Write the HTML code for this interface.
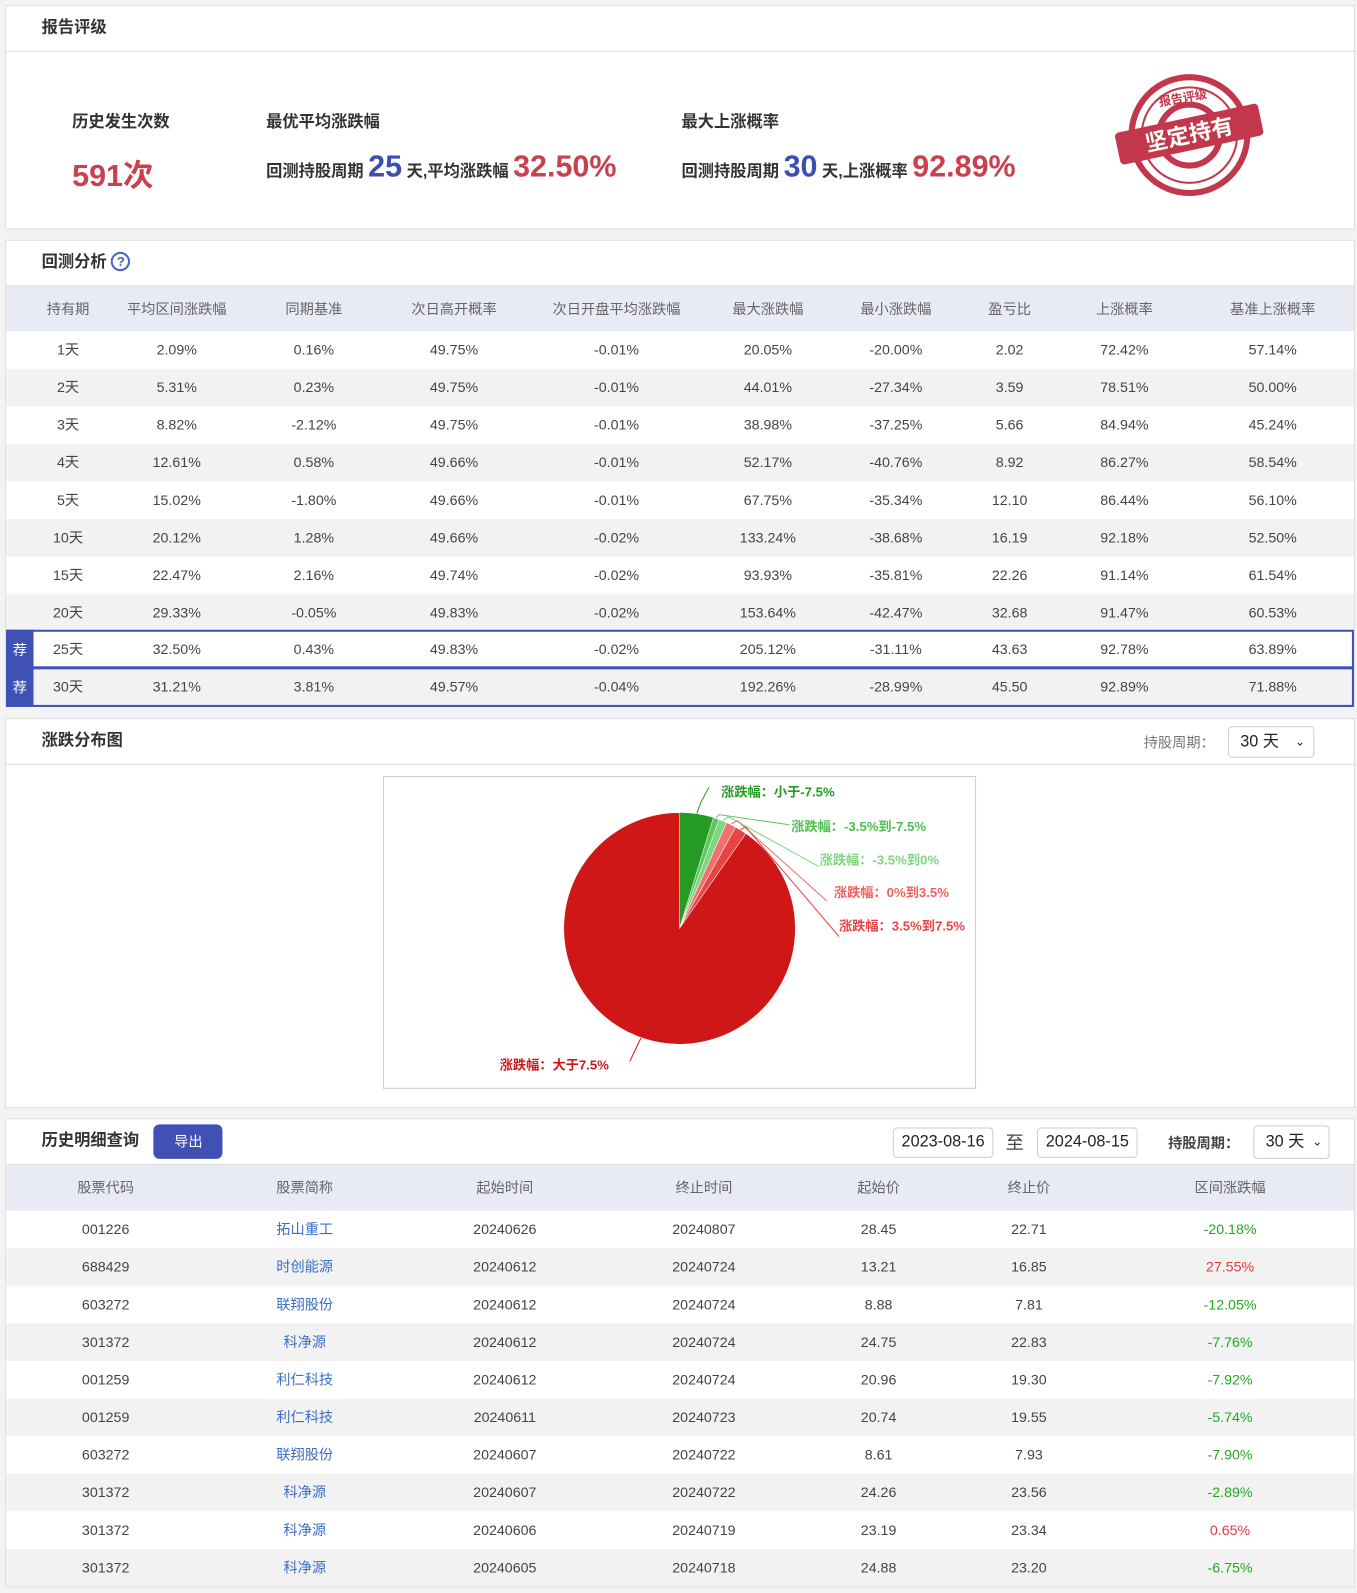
<!DOCTYPE html>
<html><head><meta charset="utf-8"><style>
*{box-sizing:border-box;margin:0;padding:0}
body{width:1357px;height:1593px;background:#f3f3f3;font-family:"Liberation Sans","Noto Sans CJK SC",sans-serif;color:#333;overflow:hidden}
#w{position:relative;width:1336px;height:1568px;transform:scale(1.01572);transform-origin:0 0}
.p{position:absolute;left:5px;width:1329px;background:#fff;border:1px solid #ddd}
.hd{height:45px;border-bottom:1px solid #ddd;font-size:16px;font-weight:bold;color:#333;padding-left:35px;line-height:44px}
.abs{position:absolute;white-space:nowrap}
.lk{color:#3b6ec6}.up{color:#e8383d}.dn{color:#22a822}
</style></head><body><div id="w">

<div class="p" style="top:5px;height:221px">
<div class="hd">报告评级</div>
<div class="abs" style="left:65px;top:100px;font-size:16px;font-weight:bold">历史发生次数</div>
<div class="abs" style="left:65px;top:142px;font-size:30px;font-weight:bold;color:#c9404f">591次</div>
<div class="abs" style="left:256px;top:100px;font-size:16px;font-weight:bold">最优平均涨跌幅</div>
<div class="abs" style="left:256px;top:142px;font-size:16px;font-weight:bold">回测持股周期 <span style="font-size:30px;color:#3a4fb0">25</span> 天,平均涨跌幅 <span style="font-size:30px;color:#c9404f">32.50%</span></div>
<div class="abs" style="left:665px;top:100px;font-size:16px;font-weight:bold">最大上涨概率</div>
<div class="abs" style="left:665px;top:142px;font-size:16px;font-weight:bold">回测持股周期 <span style="font-size:30px;color:#3a4fb0">30</span> 天,上涨概率 <span style="font-size:30px;color:#c9404f">92.89%</span></div>
<svg class="abs" style="left:1085px;top:62px" width="160" height="130">
<circle cx="80" cy="65" r="57" fill="none" stroke="#c2374b" stroke-width="6"/>
<circle cx="80" cy="65" r="47" fill="none" stroke="#c2374b" stroke-width="2"/>
<circle cx="80" cy="65" r="30" fill="none" stroke="#c2374b" stroke-width="6"/>
<text x="80" y="32" font-size="12" font-weight="bold" fill="#c2374b" text-anchor="middle" transform="rotate(-10 80 65)">报告评级</text>
<g transform="rotate(-12 80 65)"><rect x="8" y="48" width="144" height="32" rx="4" fill="#c2374b"/>
<text x="80" y="72" font-size="22" font-weight="bold" fill="#fff" text-anchor="middle">坚定持有</text></g>
</svg>
</div>

<div class="p" style="top:236px;height:460px">
<div class="hd">回测分析 <span style="display:inline-block;width:19px;height:19px;border:2px solid #4a63c0;border-radius:50%;color:#4a63c0;font-size:13px;line-height:15px;text-align:center;vertical-align:1px">?</span></div>
</div>

<div class="p" style="top:707px;height:384px">
<div class="hd">涨跌分布图</div>
<div class="abs" style="left:1120px;top:13px;font-size:14px;color:#777">持股周期：</div>
<div class="abs" style="left:1203px;top:7px;width:85px;height:31px;border:1px solid #ccc;border-radius:4px;font-size:16px;line-height:29px;padding-left:11px;color:#222">30 天 <span style="position:absolute;right:8px;font-size:12px">&#x2304;</span></div>
<div class="abs" style="left:371px;top:56px;width:584px;height:308px;border:1px solid #ccc"></div>
</div>

<svg class="abs" style="left:0;top:0" width="1336" height="1568">
<path d="M669 914 L669 800 A114 114 0 0 1 702.3 805 Z" fill="#259b24"/>
<path d="M669 914 L702.3 805 A114 114 0 0 1 708 806.9 Z" fill="#5cc95c" stroke="#fff" stroke-width=".5"/>
<path d="M669 914 L708 806.9 A114 114 0 0 1 715.4 809.9 Z" fill="#7ed67e" stroke="#fff" stroke-width=".5"/>
<path d="M669 914 L715.4 809.9 A114 114 0 0 1 724.3 814.3 Z" fill="#ef7070" stroke="#fff" stroke-width=".5"/>
<path d="M669 914 L724.3 814.3 A114 114 0 0 1 734.4 820.6 Z" fill="#e84444" stroke="#fff" stroke-width=".5"/>
<path d="M669 914 L734.4 820.6 A114 114 0 1 1 669 800 Z" fill="#cf1717" stroke="#fff" stroke-width=".5"/>
<g fill="none" stroke-width="1">
<polyline points="686,801 690,790 698,775" stroke="#259b24"/>
<polyline points="705,805 708,802 777,812" stroke="#5cc95c"/>
<polyline points="712,808 717,804 806,853" stroke="#7ed67e"/>
<polyline points="720,811 726,808 814,887" stroke="#ef7070"/>
<polyline points="729,817 734,814 826,922" stroke="#e84444"/>
<polyline points="631,1022 620,1045" stroke="#cf1717"/>
</g>
<g font-size="13" font-weight="bold" font-family="Liberation Sans,Noto Sans CJK SC,sans-serif">
<text x="710" y="784" fill="#259b24">涨跌幅：小于-7.5%</text>
<text x="779" y="818" fill="#4cbf4c">涨跌幅：-3.5%到-7.5%</text>
<text x="807" y="851" fill="#7ed67e">涨跌幅：-3.5%到0%</text>
<text x="821" y="883" fill="#ef6060">涨跌幅：0%到3.5%</text>
<text x="826" y="916" fill="#e84444">涨跌幅：3.5%到7.5%</text>
<text x="492" y="1053" fill="#cf1717">涨跌幅：大于7.5%</text>
</g>
</svg>

<div class="p" style="top:1101px;height:462px">
<div class="hd">历史明细查询 <span style="display:inline-block;margin-left:10px;width:68px;height:34px;background:#3f51b5;border-radius:6px;color:#fff;font-size:14px;font-weight:normal;text-align:center;line-height:34px;vertical-align:middle">导出</span></div>
<div class="abs" style="left:873px;top:8px;width:99px;height:30px;border:1px solid #ccc;border-radius:4px;font-size:16px;line-height:28px;text-align:center;color:#222">2023-08-16</div>
<div class="abs" style="left:984px;top:9px;font-size:18px;color:#444">至</div>
<div class="abs" style="left:1015px;top:8px;width:99px;height:30px;border:1px solid #ccc;border-radius:4px;font-size:16px;line-height:28px;text-align:center;color:#222">2024-08-15</div>
<div class="abs" style="left:1144px;top:13px;font-size:14px;font-weight:bold;color:#444">持股周期：</div>
<div class="abs" style="left:1228px;top:6px;width:75px;height:33px;border:1px solid #ccc;border-radius:4px;font-size:16px;line-height:31px;padding-left:11px;color:#222">30 天 <span style="position:absolute;right:6px;font-size:12px">&#x2304;</span></div>
</div>

<div id="t2"></div>
<div id="t4"></div>
</div>
<script>
function row(cols,y,h,bg,cells,cls){let s='';cells.forEach((c,i)=>{s+=`<div class="abs ${cls&&cls[i]||''}" style="left:${cols[i]-80}px;width:160px;text-align:center;top:${y}px;line-height:${h}px;font-size:14px;${cls&&cls[i]?'':'color:#444'}">${c}</div>`});return `<div class="abs" style="left:6px;top:${y}px;width:1327px;height:${h}px;background:${bg}"></div>`+s;}
const c2=[67,174,309,447,607,756,882,994,1107,1253];
let h='';
let hdr=['持有期','平均区间涨跌幅','同期基准','次日高开概率','次日开盘平均涨跌幅','最大涨跌幅','最小涨跌幅','盈亏比','上涨概率','基准上涨概率'];
h+=row(c2,282,44,'#e8eaf4',hdr).replace(/color:#444/g,'color:#666');
const d=[['1天','2.09%','0.16%','49.75%','-0.01%','20.05%','-20.00%','2.02','72.42%','57.14%'],
['2天','5.31%','0.23%','49.75%','-0.01%','44.01%','-27.34%','3.59','78.51%','50.00%'],
['3天','8.82%','-2.12%','49.75%','-0.01%','38.98%','-37.25%','5.66','84.94%','45.24%'],
['4天','12.61%','0.58%','49.66%','-0.01%','52.17%','-40.76%','8.92','86.27%','58.54%'],
['5天','15.02%','-1.80%','49.66%','-0.01%','67.75%','-35.34%','12.10','86.44%','56.10%'],
['10天','20.12%','1.28%','49.66%','-0.02%','133.24%','-38.68%','16.19','92.18%','52.50%'],
['15天','22.47%','2.16%','49.74%','-0.02%','93.93%','-35.81%','22.26','91.14%','61.54%'],
['20天','29.33%','-0.05%','49.83%','-0.02%','153.64%','-42.47%','32.68','91.47%','60.53%'],
['25天','32.50%','0.43%','49.83%','-0.02%','205.12%','-31.11%','43.63','92.78%','63.89%'],
['30天','31.21%','3.81%','49.57%','-0.04%','192.26%','-28.99%','45.50','92.89%','71.88%']];
const ys=[326,363,400,437,474,511,548,585,621,658];
d.forEach((r,i)=>{h+=row(c2,ys[i],37,i%2?'#f2f2f2':'#fff',r)});
h+=`<div class="abs" style="left:6px;top:620px;width:1327px;height:38px;border:2px solid #3f51b5"></div>`;
h+=`<div class="abs" style="left:6px;top:657px;width:1327px;height:39px;border:2px solid #3f51b5"></div>`;
h+=`<div class="abs" style="left:6px;top:620px;width:27px;height:76px;background:#3f51b5"></div>`;
h+=`<div class="abs" style="left:6px;top:630px;width:27px;text-align:center;color:#fff;font-size:14px">荐</div><div class="abs" style="left:6px;top:667px;width:27px;text-align:center;color:#fff;font-size:14px">荐</div>`;
document.getElementById('t2').innerHTML=h;
const c4=[104,300,497,693,865,1013,1211];
let g=row(c4,1147,45,'#e8eaf4',['股票代码','股票简称','起始时间','终止时间','起始价','终止价','区间涨跌幅']).replace(/color:#444/g,'color:#666');
const e=[['001226','拓山重工','20240626','20240807','28.45','22.71','-20.18%'],
['688429','时创能源','20240612','20240724','13.21','16.85','27.55%'],
['603272','联翔股份','20240612','20240724','8.88','7.81','-12.05%'],
['301372','科净源','20240612','20240724','24.75','22.83','-7.76%'],
['001259','利仁科技','20240612','20240724','20.96','19.30','-7.92%'],
['001259','利仁科技','20240611','20240723','20.74','19.55','-5.74%'],
['603272','联翔股份','20240607','20240722','8.61','7.93','-7.90%'],
['301372','科净源','20240607','20240722','24.26','23.56','-2.89%'],
['301372','科净源','20240606','20240719','23.19','23.34','0.65%'],
['301372','科净源','20240605','20240718','24.88','23.20','-6.75%']];
e.forEach((r,i)=>{g+=row(c4,1192+i*37,37,i%2?'#f2f2f2':'#fff',r,['','lk','','','','',r[6][0]=='-'?'dn':'up'])});
document.getElementById('t4').innerHTML=g;
</script>
</body></html>
